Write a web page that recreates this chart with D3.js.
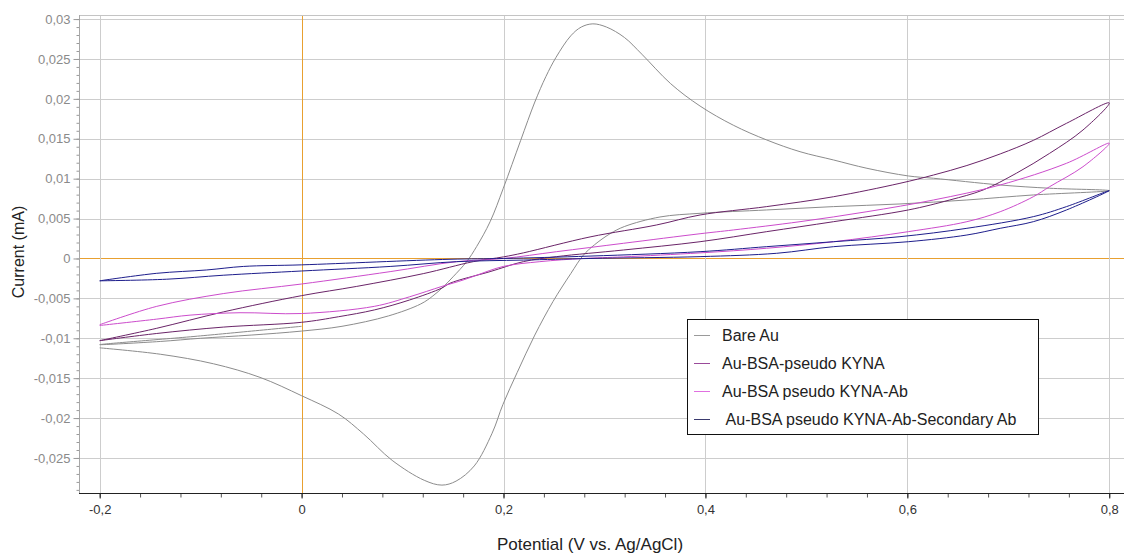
<!DOCTYPE html>
<html lang="en">
    <head>
        <meta charset="utf-8">
        <title>Cyclic voltammetry</title>
        <script src="https://d3js.org/d3.v7.min.js"></script>
        <style type="text/css">
body{
    margin: 0;
    background: #ffffff;
    font-family: Arial, "Liberation Sans", sans-serif;
}
        </style>
    </head>
    <body>
    <script type="text/javascript">
    //1. Data: [potential V, current mA], scan order as drawn
    const bareAu = [[0,-0.0085],[-0.1,-0.0097],[-0.2,-0.0108],
        [-0.14,-0.0104],[-0.1,-0.0100],[-0.05,-0.0096],[0,-0.0091],[0.04,-0.0085],[0.086,-0.0072],
        [0.118,-0.0057],[0.13,-0.0047],[0.14,-0.0036],[0.15,-0.0023],[0.1635,-0.0004],[0.1734,0.0015],
        [0.1867,0.0046],[0.1998,0.0088],[0.217,0.0148],[0.231,0.0196],[0.242,0.0228],[0.252,0.0252],
        [0.2666,0.0279],[0.277,0.0290],[0.2885,0.0294],[0.302,0.0290],[0.3197,0.0277],[0.337,0.0256],
        [0.3656,0.0219],[0.3947,0.0191],[0.4276,0.0167],[0.4607,0.01485],[0.4937,0.01338],[0.527,0.01234],
        [0.56,0.0113],[0.601,0.01034],[0.626,0.01005],[0.692,0.00921],[0.741,0.0088],[0.8,0.0085],
        [0.7248,0.00796],[0.659,0.00733],[0.5927,0.00683],[0.527,0.0065],[0.4607,0.00608],[0.3947,0.00566],
        [0.355,0.0052],[0.3197,0.0040],[0.3055,0.0031],[0.29,0.0017],[0.279,0.0004],[0.2666,-0.0019],
        [0.249,-0.0054],[0.231,-0.0096],[0.2135,-0.0143],[0.1994,-0.0183],[0.1887,-0.0219],[0.171,-0.0260],
        [0.153,-0.0279],[0.139,-0.0284],[0.1215,-0.0278],[0.0897,-0.0253],[0.0614,-0.0220],[0.0366,-0.0195],
        [0,-0.0172],[-0.0412,-0.0149],[-0.0872,-0.0132],[-0.14,-0.0120],[-0.2,-0.0112]];

    const kyna = [[-0.2,-0.0103],[-0.1435,-0.00875],[-0.0776,-0.0067],[0,-0.00466],[0.0546,-0.0035],
        [0.1205,-0.0019],[0.17,-0.0004],[0.2,0.0002],[0.2196,0.0007],[0.2857,0.0027],[0.3517,0.0042],
        [0.3947,0.00545],[0.4607,0.0065],[0.527,0.00774],[0.5927,0.00942],[0.626,0.01046],[0.659,0.01165],
        [0.692,0.0131],[0.7248,0.0148],[0.7577,0.01694],[0.8,0.0195],
        [0.774,0.0161],[0.741,0.01318],[0.708,0.01068],[0.675,0.00858],[0.642,0.00733],[0.601,0.00608],
        [0.527,0.00461],[0.4607,0.00336],[0.3947,0.0021],[0.3187,0.00106],[0.2526,0.00023],[0.2196,-0.0004],
        [0.1867,-0.00165],[0.147,-0.0031],[0.139,-0.0037],[0.107,-0.0052],[0.072,-0.00645],[0.0366,-0.0073],
        [0,-0.0080],[-0.0776,-0.0086],[-0.1435,-0.0094],[-0.2,-0.0103]];

    const kynaAb = [[-0.2,-0.0083],[-0.1435,-0.0060],[-0.0776,-0.0044],[0,-0.0032],[0.0877,-0.00165],
        [0.1536,-0.0004],[0.2,0.0],[0.2526,0.00085],[0.3187,0.0019],[0.3947,0.0031],[0.4276,0.00357],
        [0.4937,0.00461],[0.56,0.00586],[0.626,0.00733],[0.692,0.00921],[0.7577,0.01193],[0.8,0.01444],
        [0.774,0.0115],[0.741,0.009],[0.7248,0.00774],[0.692,0.00586],[0.659,0.00461],[0.601,0.00336],
        [0.527,0.0021],[0.4607,0.00128],[0.3947,0.0007],[0.3187,0.0002],[0.279,0.0],[0.236,-0.0004],
        [0.1998,-0.001],[0.1734,-0.0021],[0.16,-0.0027],[0.139,-0.0035],[0.107,-0.0048],[0.072,-0.006],
        [0,-0.0069],[-0.061,-0.0068],[-0.1105,-0.0071],[-0.1435,-0.0076],[-0.2,-0.0084]];

    const secondaryAb = [[-0.2,-0.0028],[-0.1435,-0.00186],[-0.094,-0.00144],[-0.0577,-0.0010],[0,-0.0008],
        [0.147,-0.0001],[0.2,0.0],[0.2857,0.0003],[0.3947,0.00085],[0.4607,0.00148],[0.527,0.0021],
        [0.5927,0.00273],[0.659,0.00378],[0.7248,0.00524],[0.7577,0.0065],[0.8,0.0085],
        [0.7577,0.00608],[0.7248,0.00461],[0.692,0.00378],[0.659,0.00294],[0.601,0.0021],[0.527,0.00148],
        [0.4706,0.00065],[0.3947,0.00023],[0.2857,0.0],[0.2196,-0.0002],[0.1536,-0.0004],[0.0877,-0.001],
        [0,-0.00157],[-0.0776,-0.0021],[-0.1336,-0.0026],[-0.2,-0.0028]];

    const seriesNames = ["Bare Au", "Au-BSA-pseudo KYNA", "Au-BSA pseudo KYNA-Ab", " Au-BSA pseudo KYNA-Ab-Secondary Ab"];
    const seriesData = [bareAu, kyna, kynaAb, secondaryAb];
    const seriesColors = ["#8c8c8c", "#6a2468", "#cc4ccc", "#1e1e8c"];
    const legendColors = ["#9a9a9a", "#9a4a9a", "#e070e0", "#3a3a6e"];

    const xTicks = [-0.2, 0, 0.2, 0.4, 0.6, 0.8];
    const yTicks = [-0.025, -0.02, -0.015, -0.01, -0.005, 0, 0.005, 0.01, 0.015, 0.02, 0.025, 0.03];

    //2. Constants for the svg
    const svgWidth = 1124;
    const svgHeight = 555;
    const plotLeft = 79, plotRight = 1126, plotTop = 15, plotBottom = 493;

    //3. Scales
    const xScale = d3.scaleLinear()
        .domain([-0.2205, 0.8166])
        .range([plotLeft, plotRight]);
    const yScale = d3.scaleLinear()
        .domain([-0.02939, 0.03051])
        .range([plotBottom, plotTop]);

    const fmt = d3.formatLocale({decimal: ",", thousands: ".", grouping: [3], currency: ["", ""], minus: "-"}).format(".3~f");

    const svg = d3.select("body")
        .append("svg")
        .attr("width", svgWidth)
        .attr("height", svgHeight);

    //4. Grid
    svg.append("g").selectAll("line")
        .data(yTicks)
        .join("line")
        .attr("x1", plotLeft).attr("x2", plotRight)
        .attr("y1", d => Math.round(yScale(d)) + 0.5)
        .attr("y2", d => Math.round(yScale(d)) + 0.5)
        .attr("stroke", d => d === 0 ? "#e8a030" : "#cdcdcd")
        .attr("stroke-width", 1);

    svg.append("g").selectAll("line")
        .data(xTicks)
        .join("line")
        .attr("x1", d => Math.round(xScale(d)) + 0.5)
        .attr("x2", d => Math.round(xScale(d)) + 0.5)
        .attr("y1", plotTop).attr("y2", plotBottom)
        .attr("stroke", d => d === 0 ? "#e8a030" : "#cdcdcd")
        .attr("stroke-width", 1);

    // top border
    svg.append("line")
        .attr("x1", plotLeft).attr("x2", plotRight)
        .attr("y1", plotTop + 0.5).attr("y2", plotTop + 0.5)
        .attr("stroke", "#c4c4c4");

    //5. Y axis (gray, ticks every 0.001)
    const yAxis = d3.axisLeft(yScale)
        .tickValues(yTicks)
        .tickFormat(fmt)
        .tickSize(6)
        .tickPadding(3);
    const yMinor = d3.axisLeft(yScale)
        .tickValues(d3.range(-29, 31).map(d => d / 1000))
        .tickFormat("")
        .tickSize(3);

    const gyMinor = svg.append("g")
        .attr("transform", "translate(" + (plotLeft + 0.5) + ",0)")
        .call(yMinor);
    gyMinor.select(".domain").remove();
    gyMinor.selectAll("line").attr("stroke", "#9a9a9a");

    const gy = svg.append("g")
        .attr("transform", "translate(" + (plotLeft + 0.5) + ",0)")
        .call(yAxis);
    gy.select(".domain").attr("stroke", "#a8a8a8").attr("d", "M0," + plotTop + "V" + plotBottom);
    gy.selectAll("line").attr("stroke", "#9a9a9a");
    gy.selectAll("text")
        .attr("fill", "#8a8a8a")
        .style("font-family", "Arial, 'Liberation Sans', sans-serif")
        .style("font-size", "13px");

    //6. X axis (black, minor ticks every 0.04)
    const xAxis = d3.axisBottom(xScale)
        .tickValues(xTicks)
        .tickFormat(fmt)
        .tickSize(5)
        .tickPadding(6);
    const xMinor = d3.axisBottom(xScale)
        .tickValues(d3.range(-5, 21).map(d => d * 0.04))
        .tickFormat("")
        .tickSize(4);

    const gxMinor = svg.append("g")
        .attr("transform", "translate(0," + (plotBottom + 0.5) + ")")
        .call(xMinor);
    gxMinor.select(".domain").remove();
    gxMinor.selectAll("line").attr("stroke", "#555");

    const gx = svg.append("g")
        .attr("transform", "translate(0," + (plotBottom + 0.5) + ")")
        .call(xAxis);
    gx.select(".domain").attr("stroke", "#222").attr("d", "M" + plotLeft + ",0H" + plotRight);
    gx.selectAll("line").attr("stroke", "#222");
    gx.selectAll("text")
        .attr("fill", "#333")
        .style("font-family", "Arial, 'Liberation Sans', sans-serif")
        .style("font-size", "13px");

    //7. Axis titles
    svg.append("text")
        .attr("x", 590).attr("y", 550)
        .attr("text-anchor", "middle")
        .attr("fill", "#222")
        .style("font-size", "17px")
        .text("Potential (V vs. Ag/AgCl)");
    svg.append("text")
        .attr("transform", "translate(24,252) rotate(-90)")
        .attr("text-anchor", "middle")
        .attr("fill", "#222")
        .style("font-size", "16px")
        .text("Current (mA)");

    //8. Curves
    const line = d3.line()
        .x(d => xScale(d[0]))
        .y(d => yScale(d[1]))
        .curve(d3.curveCatmullRom.alpha(0.5));

    svg.append("g").selectAll("path")
        .data(seriesData)
        .join("path")
        .attr("d", line)
        .attr("fill", "none")
        .attr("stroke", (d, i) => seriesColors[i])
        .attr("stroke-width", 1);

    //9. Legend
    const legend = svg.append("g");
    legend.append("rect")
        .attr("x", 687.5).attr("y", 319.5)
        .attr("width", 351).attr("height", 115)
        .attr("fill", "#fff")
        .attr("stroke", "#111")
        .attr("stroke-width", 1);
    const rows = legend.selectAll("g.row")
        .data(seriesNames)
        .join("g")
        .attr("class", "row")
        .attr("transform", (d, i) => "translate(0," + [335, 363, 391, 419][i] + ")");
    rows.append("line")
        .attr("x1", 694).attr("x2", 710)
        .attr("y1", 0.5).attr("y2", 0.5)
        .attr("stroke", (d, i) => legendColors[i]);
    rows.append("text")
        .attr("x", 722).attr("y", 6)
        .attr("fill", "#222")
        .style("font-size", "16px")
        .style("white-space", "pre")
        .text(d => d);
    </script>
    </body>
</html>
